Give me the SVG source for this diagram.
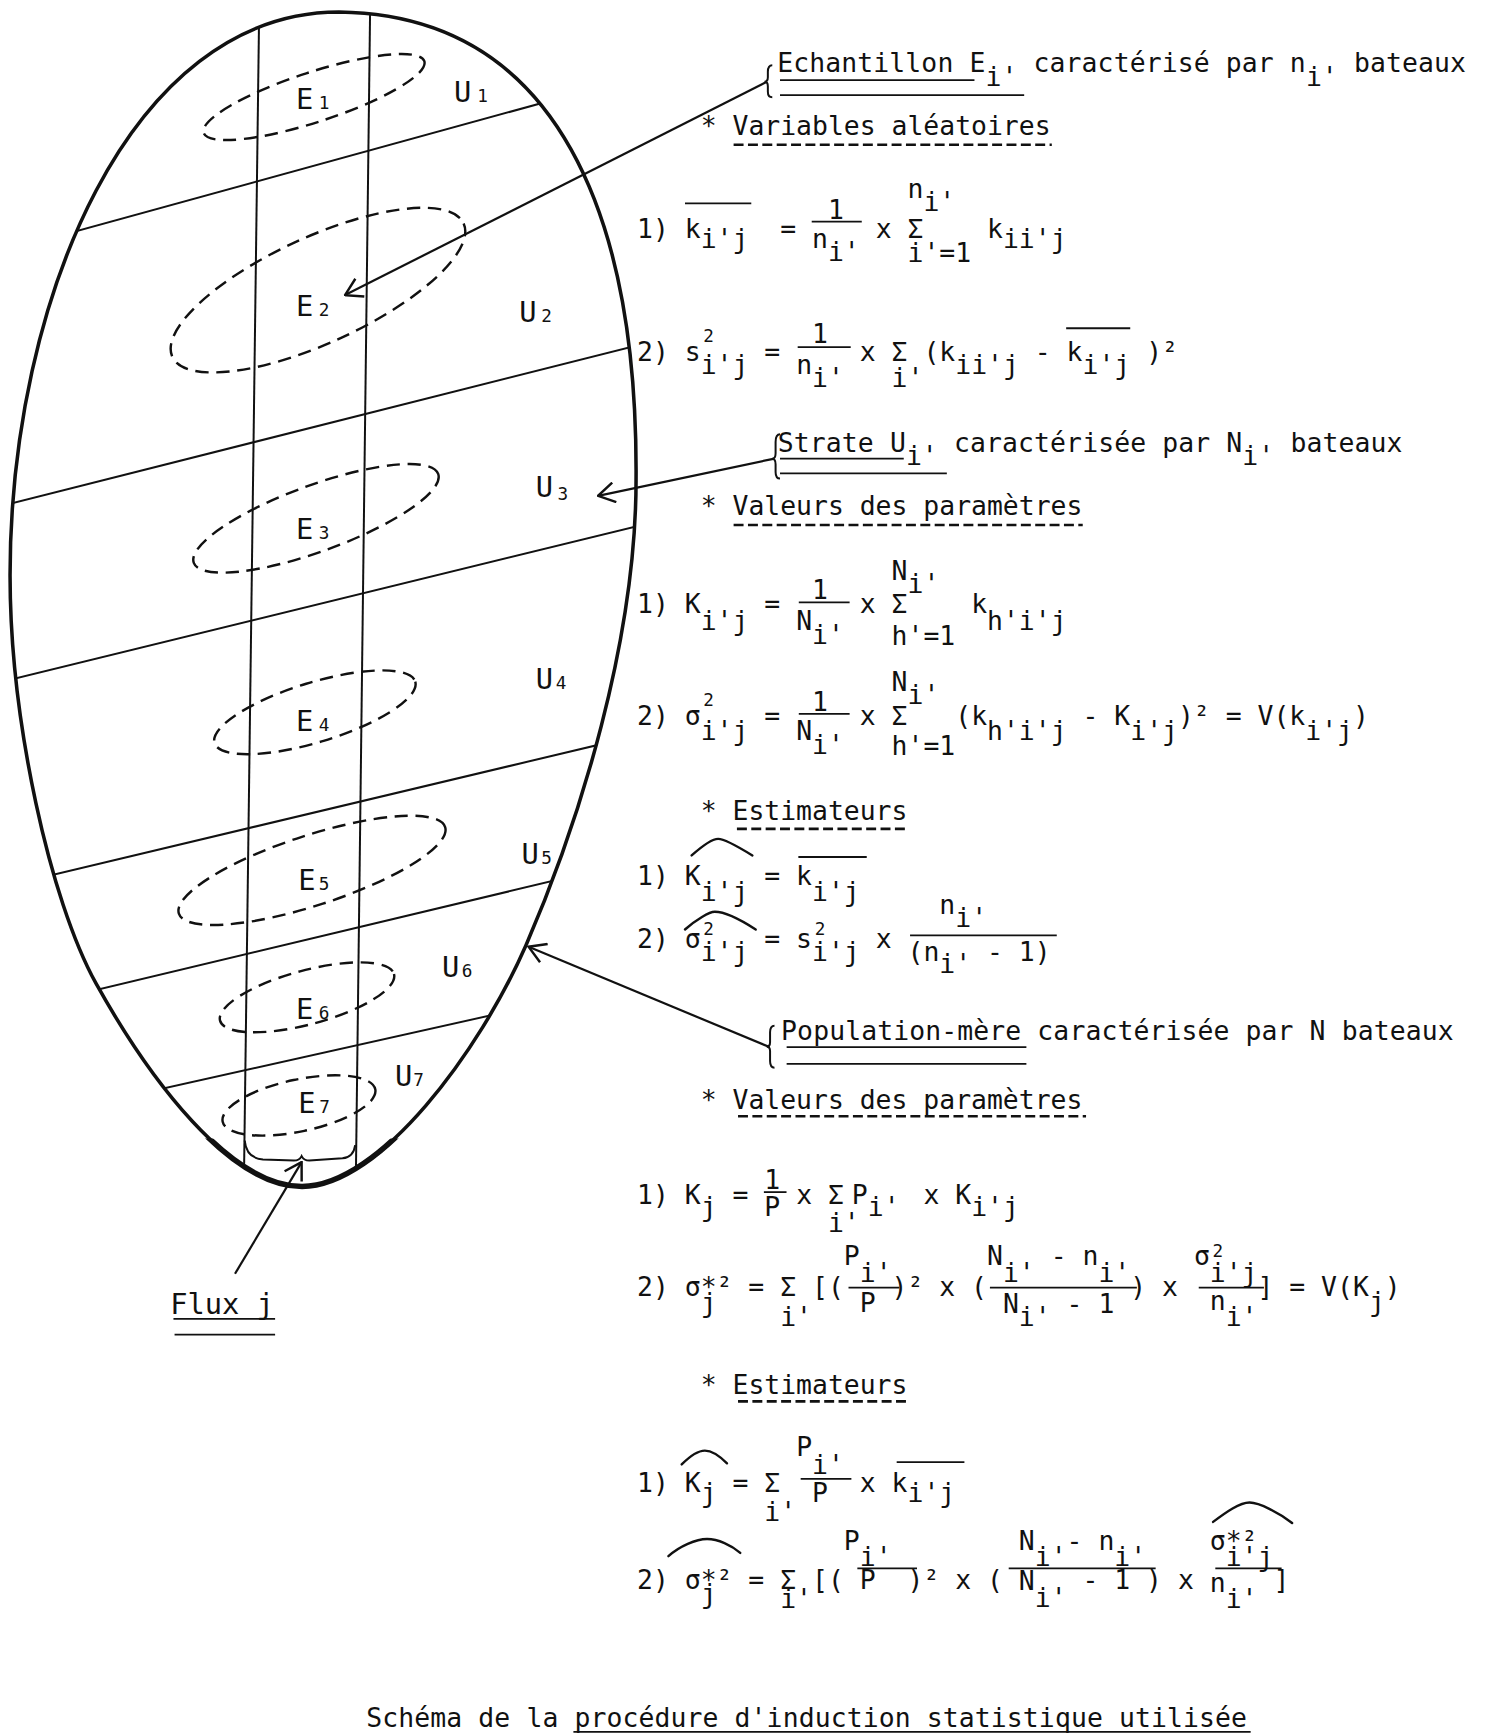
<svg xmlns="http://www.w3.org/2000/svg" width="1486" height="1733" viewBox="0 0 1486 1733" xml:space="preserve">
<style>
.m{font-family:"DejaVu Sans Mono","Liberation Mono",monospace;font-size:23.92px;fill:#111;white-space:pre}
.w{letter-spacing:0.1px}
.sm{font-family:"DejaVu Sans Mono","Liberation Mono",monospace;font-size:16px;fill:#111;text-anchor:middle}
.lab{font-family:"DejaVu Sans Mono","Liberation Mono",monospace;font-size:26px;fill:#111}
.sd{font-family:"DejaVu Sans Mono","Liberation Mono",monospace;font-size:16px;fill:#111}
.ln{stroke:#111;stroke-width:1.8;fill:none}
.ul{stroke:#111;stroke-width:1.6}
.du{stroke:#111;stroke-width:2.4;stroke-dasharray:9 4}
.el{fill:none;stroke:#111;stroke-width:2.2;stroke-dasharray:12 7}
.hat{fill:none;stroke:#111;stroke-width:2.2;stroke-linecap:round}
.br{fill:none;stroke:#111;stroke-width:1.8}
.cn{stroke:#111;stroke-width:2;fill:none}
</style>
<defs>
<marker id="arr" viewBox="0 0 20 20" refX="19" refY="10" markerWidth="20" markerHeight="20" markerUnits="userSpaceOnUse" orient="auto">
<path d="M 4 1 L 19 10 L 4 19" fill="none" stroke="#111" stroke-width="2.2"/>
</marker>
<path id="egg" d="M 306.8 10.9 C 506.9 13.6 577.5 199.1 575.7 434.5 C 575.7 579.3 525 742.2 476.1 855.3 C 434.5 950.4 344 1073.5 273.4 1073.5 C 208.2 1073.5 135.8 977.5 86.9 889.8 C 45.3 814.6 9.1 651.7 9.1 520.5 C 9.1 271.5 117.7 10.9 306.8 10.9 Z"/>
<clipPath id="eggclip"><use href="#egg"/></clipPath>
<clipPath id="bottomclip"><rect x="150" y="1030" width="240" height="60"/></clipPath>
</defs>
<rect x="0" y="0" width="1486" height="1733" fill="#fff"/>
<g transform="scale(1.10483 1.10523)">

<g id="population-egg">
<use href="#egg" fill="none" stroke="#111" stroke-width="3.2"/>
<use href="#egg" fill="none" stroke="#111" stroke-width="5" clip-path="url(#bottomclip)"/>
</g>

<g id="strata" clip-path="url(#eggclip)">
<line class="ln" x1="0" y1="228.2" x2="600" y2="63.1"/>
<line class="ln" x1="0" y1="458" x2="600" y2="306.7"/>
<line class="ln" x1="0" y1="617.3" x2="600" y2="470.4"/>
<line class="ln" x1="0" y1="802.9" x2="600" y2="660"/>
<line class="ln" x1="0" y1="916.6" x2="600" y2="773.2"/>
<line class="ln" x1="0" y1="1017.9" x2="600" y2="883.9"/>
<line class="ln" x1="234.7" y1="0" x2="220.5" y2="1090"/>
<line class="ln" x1="335.1" y1="0" x2="321.8" y2="1090"/>
</g>

<g id="flux-boundary">
<path class="br" d="M 221.5 1032 Q 223 1048 238 1049 L 266 1050 Q 271 1050 273 1046 Q 275 1050 280 1050 L 310 1048 Q 320 1047 321.5 1036" stroke-width="2.2"/>
</g>

<g id="samples">
<ellipse class="el" cx="284.2" cy="87.8" rx="105" ry="22.6" transform="rotate(-18 284.2 87.8)"/>
<ellipse class="el" cx="287.8" cy="262.5" rx="145" ry="48" transform="rotate(-24.6 287.8 262.5)"/>
<ellipse class="el" cx="286" cy="469" rx="117.7" ry="30" transform="rotate(-20 286 469)"/>
<ellipse class="el" cx="285" cy="644.5" rx="95" ry="27" transform="rotate(-17 285 644.5)"/>
<ellipse class="el" cx="282.4" cy="787.5" rx="126.7" ry="31.7" transform="rotate(-18 282.4 787.5)"/>
<ellipse class="el" cx="277.9" cy="902.4" rx="81.5" ry="24.4" transform="rotate(-15 277.9 902.4)"/>
<ellipse class="el" cx="270.6" cy="1000.2" rx="70.6" ry="23.5" transform="rotate(-12 270.6 1000.2)"/>
</g>

<g id="sample-labels">
<text class="lab" x="268" y="99">E</text><text class="sd" x="288.5" y="99">1</text>
<text class="lab" x="268" y="286">E</text><text class="sd" x="288.5" y="286">2</text>
<text class="lab" x="268" y="488">E</text><text class="sd" x="288.5" y="488">3</text>
<text class="lab" x="268" y="661">E</text><text class="sd" x="288.5" y="661">4</text>
<text class="lab" x="270" y="805">E</text><text class="sd" x="288.5" y="805">5</text>
<text class="lab" x="268" y="922">E</text><text class="sd" x="288.5" y="922">6</text>
<text class="lab" x="270" y="1007">E</text><text class="sd" x="289" y="1007">7</text>
</g>

<g id="strata-labels">
<text class="lab" x="411" y="92">U</text><text class="sd" x="432" y="92">1</text>
<text class="lab" x="470" y="291">U</text><text class="sd" x="490" y="291">2</text>
<text class="lab" x="485" y="450">U</text><text class="sd" x="504.5" y="452">3</text>
<text class="lab" x="485" y="623">U</text><text class="sd" x="503" y="623">4</text>
<text class="lab" x="472" y="782">U</text><text class="sd" x="490" y="782">5</text>
<text class="lab" x="400" y="884">U</text><text class="sd" x="418" y="884">6</text>
<text class="lab" x="357.5" y="983">U</text><text class="sd" x="374" y="983">7</text>
</g>

<g id="flux-label">
<text class="lab" x="154" y="1189">Flux j</text>
<line class="ul" x1="157" y1="1193.3" x2="249" y2="1193.3"/>
<line class="ul" x1="158" y1="1207.5" x2="249" y2="1207.5"/>
</g>

<g id="connectors">
<line class="cn" x1="694" y1="74" x2="312.3" y2="267" marker-end="url(#arr)"/>
<line class="cn" x1="701" y1="414.9" x2="541.3" y2="448.6" marker-end="url(#arr)"/>
<line class="cn" x1="696.5" y1="947.4" x2="478.4" y2="856.6" marker-end="url(#arr)"/>
<line class="cn" x1="212.7" y1="1152.5" x2="273" y2="1051.5" marker-end="url(#arr)"/>
</g>

<g id="echantillon-block">
<path class="br" d="M 699 59 Q 695 59 695 65 L 695 70 Q 695 74 692 74 Q 695 74 695 78 L 695 83 Q 695 88 699 88"/>
<text class="m w" x="703.5" y="65">Echantillon E</text>
<text class="m" x="892" y="78">i'</text>
<text class="m w" x="935.5" y="65">caractérisé par n</text>
<text class="m" x="1182" y="78">i'</text>
<text class="m w" x="1225.5" y="65">bateaux</text>
<line class="ul" x1="706" y1="72.4" x2="882" y2="72.4"/>
<line class="ul" x1="706" y1="86" x2="927" y2="86"/>
<text class="m" x="634.2" y="122">* Variables aléatoires</text>
<line class="du" x1="664" y1="131" x2="952" y2="131"/>

<text class="m" x="821.4" y="179">n</text>
<text class="m" x="835.8" y="191">i'</text>
<text class="m" x="749.4" y="198">1</text>
<line class="ul" x1="734.7" y1="200.5" x2="780" y2="200.5"/>
<line class="ul" x1="620" y1="184" x2="680" y2="184"/>
<text class="m" x="576.6" y="215">1) k</text>
<text class="m" x="706.2" y="215">=</text>
<text class="m" x="792.6" y="215">x Σ</text>
<text class="m" x="893.4" y="215">k</text>
<text class="m" x="634.2" y="224">i'j</text>
<text class="m" x="735" y="224">n</text>
<text class="m" x="907.8" y="224">ii'j</text>
<text class="m" x="749.4" y="236">i'</text>
<text class="m" x="821.4" y="237">i'=1</text>

<text class="sm" x="641.4" y="309">2</text>
<text class="m" x="735" y="310">1</text>
<line class="ul" x1="722" y1="314" x2="770" y2="314"/>
<line class="ul" x1="965" y1="297" x2="1023" y2="297"/>
<text class="m" x="576.6" y="327">2) s</text>
<text class="m" x="691.8" y="327">=</text>
<text class="m" x="778.2" y="327">x Σ (k</text>
<text class="m" x="936.6" y="327">- k</text>
<text class="m" x="1037.4" y="327">)²</text>
<text class="m" x="634.2" y="338">i'j</text>
<text class="m" x="720.6" y="338">n</text>
<text class="m" x="864.6" y="338">ii'j</text>
<text class="m" x="979.8" y="338">i'j</text>
<text class="m" x="735" y="350.5">i'</text>
<text class="m" x="807" y="350.5">i'</text>
</g>

<g id="strate-block">
<path class="br" d="M 706 393 Q 702 393 702 400 L 702 410 Q 702 415 699 415 Q 702 415 702 420 L 702 427 Q 702 433 706 433"/>
<text class="m w" x="704" y="409">Strate U</text>
<text class="m" x="820" y="421">i'</text>
<text class="m w" x="863.5" y="409">caractérisée par N</text>
<text class="m" x="1124.5" y="421">i'</text>
<text class="m w" x="1168" y="409">bateaux</text>
<line class="ul" x1="706" y1="415" x2="818" y2="415"/>
<line class="ul" x1="706" y1="428.4" x2="857" y2="428.4"/>
<text class="m" x="634.2" y="466">* Valeurs des paramètres</text>
<line class="du" x1="664" y1="475" x2="980" y2="475"/>

<text class="m" x="807" y="525">N</text>
<text class="m" x="821.4" y="537">i'</text>
<text class="m" x="735" y="542">1</text>
<line class="ul" x1="723" y1="545" x2="769" y2="545"/>
<text class="m" x="576.6" y="555">1) K</text>
<text class="m" x="691.8" y="555">=</text>
<text class="m" x="778.2" y="555">x Σ</text>
<text class="m" x="879" y="555">k</text>
<text class="m" x="634.2" y="570">i'j</text>
<text class="m" x="720.6" y="570">N</text>
<text class="m" x="893.4" y="570">h'i'j</text>
<text class="m" x="735" y="583">i'</text>
<text class="m" x="807" y="584">h'=1</text>

<text class="m" x="807" y="625">N</text>
<text class="m" x="821.4" y="637">i'</text>
<text class="sm" x="641.4" y="639">2</text>
<text class="m" x="735" y="643">1</text>
<line class="ul" x1="723" y1="646" x2="769" y2="646"/>
<text class="m" x="576.6" y="656">2) σ</text>
<text class="m" x="691.8" y="656">=</text>
<text class="m" x="778.2" y="656">x Σ</text>
<text class="m" x="864.6" y="656">(k</text>
<text class="m" x="979.8" y="656">- K</text>
<text class="m" x="1066.2" y="656">)² = V(k</text>
<text class="m" x="1224.6" y="656">)</text>
<text class="m" x="634.2" y="670">i'j</text>
<text class="m" x="720.6" y="670">N</text>
<text class="m" x="893.4" y="670">h'i'j</text>
<text class="m" x="1023" y="670">i'j</text>
<text class="m" x="1181.4" y="670">i'j</text>
<text class="m" x="735" y="682">i'</text>
<text class="m" x="807" y="683">h'=1</text>

<text class="m" x="634.2" y="742">* Estimateurs</text>
<line class="du" x1="667" y1="750" x2="823" y2="750"/>
<path class="hat" d="M 626 774 C 635 766 645 759 650 759 C 656 759 668 766 681 774"/>
<line class="ul" x1="722.6" y1="775.4" x2="784.5" y2="775.4"/>
<text class="m" x="576.6" y="801">1) K</text>
<text class="m" x="691.8" y="801">= k</text>
<text class="m" x="634.2" y="815">i'j</text>
<text class="m" x="735" y="815">i'j</text>

<path class="hat" d="M 620 841 C 630 832 642 825 647 825 C 655 825 670 832 684 841"/>
<text class="m" x="850.2" y="827">n</text>
<text class="m" x="864.6" y="839">i'</text>
<text class="sm" x="641.4" y="846">2</text>
<text class="sm" x="742.2" y="846">2</text>
<line class="ul" x1="823.7" y1="846.3" x2="956.5" y2="846.3"/>
<text class="m" x="576.6" y="858">2) σ</text>
<text class="m" x="691.8" y="858">= s</text>
<text class="m" x="792.6" y="858">x</text>
<text class="m" x="634.2" y="869.5">i'j</text>
<text class="m" x="735" y="869.5">i'j</text>
<text class="m" x="821.4" y="869.5">(n</text>
<text class="m" x="893.4" y="869.5">- 1)</text>
<text class="m" x="850.2" y="880">i'</text>
</g>

<g id="population-block">
<path class="br" d="M 701 928 Q 697 928 697 934 L 697 943 Q 697 947 694 947 Q 697 947 697 951 L 697 960 Q 697 966 701 966"/>
<text class="m w" x="707" y="941">Population-mère caractérisée par N bateaux</text>
<line class="ul" x1="712" y1="947.4" x2="929" y2="947.4"/>
<line class="ul" x1="712" y1="962.5" x2="929" y2="962.5"/>
<text class="m" x="634.2" y="1003">* Valeurs des paramètres</text>
<line class="du" x1="668" y1="1010" x2="983" y2="1010"/>

<text class="m" x="691.8" y="1075.5">1</text>
<line class="ul" x1="691.4" y1="1078.6" x2="711.9" y2="1078.6"/>
<text class="m" x="576.6" y="1089">1) K</text>
<text class="m" x="663" y="1089">=</text>
<text class="m" x="720.6" y="1089">x Σ</text>
<text class="m" x="771" y="1089">P</text>
<text class="m" x="835.8" y="1089">x K</text>
<text class="m" x="634.2" y="1100.5">j</text>
<text class="m" x="691.8" y="1100.5">P</text>
<text class="m" x="785.4" y="1100.5">i'</text>
<text class="m" x="879" y="1100.5">i'j</text>
<text class="m" x="749.4" y="1115">i'</text>

<text class="sm" x="1102.2" y="1137">2</text>
<text class="m" x="763.8" y="1145">P</text>
<text class="m" x="893.4" y="1145">N</text>
<text class="m" x="951" y="1145">- n</text>
<text class="m" x="1080.6" y="1145">σ</text>
<text class="m" x="778.2" y="1160">i'</text>
<text class="m" x="907.8" y="1160">i'</text>
<text class="m" x="994.2" y="1160">i'</text>
<text class="m" x="1095" y="1160">i'j</text>
<line class="ul" x1="768" y1="1165" x2="814" y2="1165"/>
<line class="ul" x1="896" y1="1165" x2="1029" y2="1165"/>
<line class="ul" x1="1085" y1="1165" x2="1144" y2="1165"/>
<text class="m" x="576.6" y="1173">2) σ*² = Σ [(</text>
<text class="m" x="807" y="1173">)² x (</text>
<text class="m" x="1023" y="1173">) x</text>
<text class="m" x="1138.2" y="1173">] = V(K</text>
<text class="m" x="1253.4" y="1173">)</text>
<text class="m" x="634.2" y="1187">j</text>
<text class="m" x="778.2" y="1187">P</text>
<text class="m" x="907.8" y="1188">N</text>
<text class="m" x="965.4" y="1188">- 1</text>
<text class="m" x="1095" y="1185">n</text>
<text class="m" x="1239" y="1186">j</text>
<text class="m" x="706.2" y="1200">i'</text>
<text class="m" x="922.2" y="1200">i'</text>
<text class="m" x="1109.4" y="1200">i'</text>

<text class="m" x="634.2" y="1261">* Estimateurs</text>
<line class="du" x1="668" y1="1268" x2="824" y2="1268"/>

<path class="hat" d="M 617 1325 C 625 1317 633 1312.5 638 1312.5 C 643 1312.5 651 1317 658 1324"/>
<text class="m" x="720.6" y="1317">P</text>
<text class="m" x="735" y="1333.6">i'</text>
<line class="ul" x1="724.7" y1="1338" x2="770.6" y2="1338"/>
<line class="ul" x1="811.6" y1="1323" x2="872.9" y2="1323"/>
<text class="m" x="576.6" y="1350">1) K</text>
<text class="m" x="663" y="1350">= Σ</text>
<text class="m" x="778.2" y="1350">x k</text>
<text class="m" x="634.2" y="1359">j</text>
<text class="m" x="735" y="1359">P</text>
<text class="m" x="821.4" y="1359">i'j</text>
<text class="m" x="691.8" y="1376">i'</text>

<path class="hat" d="M 605 1408 C 615 1399 630 1392.5 640 1392.5 C 650 1392.5 662 1398 670 1405"/>
<path class="hat" d="M 1098 1377 C 1110 1368 1122 1359.5 1131 1359.5 C 1140 1359.5 1158 1369 1169.5 1378"/>
<text class="m" x="763.8" y="1402">P</text>
<text class="m" x="922.2" y="1402">N</text>
<text class="m" x="965.4" y="1402">- n</text>
<text class="m" x="1095" y="1402">σ*²</text>
<text class="m" x="778.2" y="1417">i'</text>
<text class="m" x="936.6" y="1417">i'</text>
<text class="m" x="1008.6" y="1417">i'</text>
<text class="m" x="1109.4" y="1417">i'j</text>
<line class="ul" x1="776" y1="1419" x2="830" y2="1419"/>
<line class="ul" x1="913" y1="1419" x2="1046" y2="1419"/>
<line class="ul" x1="1100" y1="1419" x2="1160" y2="1419"/>
<text class="m" x="576.6" y="1438">2) σ*² = Σ [(</text>
<text class="m" x="778.2" y="1438">P</text>
<text class="m" x="821.4" y="1438">)² x (</text>
<text class="m" x="922.2" y="1439">N</text>
<text class="m" x="979.8" y="1438">- 1 )</text>
<text class="m" x="1066.2" y="1438">x</text>
<text class="m" x="1095" y="1440">n</text>
<text class="m" x="1152.6" y="1438">]</text>
<text class="m" x="634.2" y="1450">j</text>
<text class="m" x="706.2" y="1455">i'</text>
<text class="m" x="936.6" y="1454">i'</text>
<text class="m" x="1109.4" y="1455">i'</text>
</g>

<g id="caption">
<text class="m w" x="331.5" y="1563">Schéma de la procédure d'induction statistique utilisée</text>
<line class="ul" x1="519" y1="1567" x2="1132" y2="1567"/>
</g>

</g>
</svg>
